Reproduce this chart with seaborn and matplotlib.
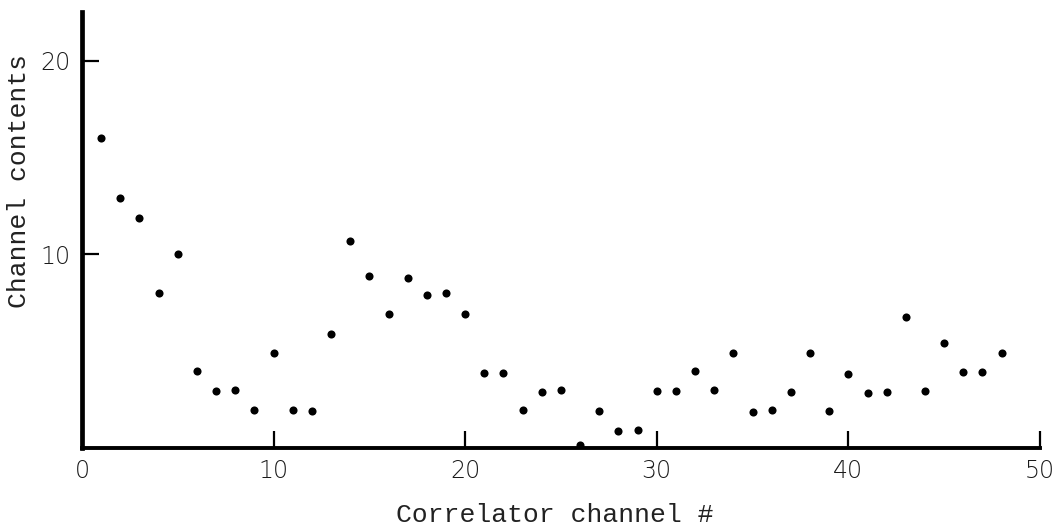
import seaborn as sns
import matplotlib.pyplot as plt
import pandas as pd

# channel number and counts
channel = list(range(1, 49))
contents = [16, 12.9, 11.9, 8, 10, 4, 2.95, 3, 1.95, 4.9, 1.95, 1.9,
            5.9, 10.7, 8.9, 6.9, 8.8, 7.9, 8, 6.9, 3.9, 3.9, 1.95, 2.9,
            3, 0.15, 1.9, 0.9, 0.95, 2.95, 2.95, 4, 3, 4.9, 1.85, 1.95,
            2.9, 4.9, 1.9, 3.85, 2.85, 2.9, 6.75, 2.95, 5.45, 3.95, 3.95, 4.9]
xticks = [0, 10, 20, 30, 40, 50]
yticks = [10, 20]

df = pd.DataFrame({"channel": channel, "contents": contents})

sns.set_style("ticks")
plt.rcParams['font.family'] = ['DejaVu Sans']

fig = plt.figure(figsize=(10.59, 5.31), dpi=100)
ax = fig.add_axes([0.0774, 0.156, 0.9046, 0.821])

sns.scatterplot(data=df, x="channel", y="contents", ax=ax, color="black",
                s=34, edgecolor="black", linewidth=0)

ax.set_xlim(0, 50)
ax.set_ylim(0, 22.5)
ax.set_xticks(xticks)
ax.set_yticks(yticks)
ax.tick_params(axis="both", direction="in", length=12, width=1.6,
               labelsize=17, colors="black", labelcolor="#1a1a1a", pad=8)
for lab in ax.get_xticklabels() + ax.get_yticklabels():
    lab.set_fontweight("light")

for side in ["top", "right"]:
    ax.spines[side].set_visible(False)
ax.spines["left"].set_linewidth(3.4)
ax.spines["bottom"].set_linewidth(2.8)
ax.spines["left"].set_color("black")
ax.spines["bottom"].set_color("black")

ax.set_xlabel("Correlator channel #", family="Liberation Mono", fontsize=19,
              color="#222222")
ax.set_ylabel("Channel contents", family="Liberation Mono", fontsize=19,
              color="#222222")
ax.xaxis.set_label_coords(0.494, -0.125)
ax.yaxis.set_label_coords(-0.053, 0.612)

fig.savefig("out.png", dpi=100)
